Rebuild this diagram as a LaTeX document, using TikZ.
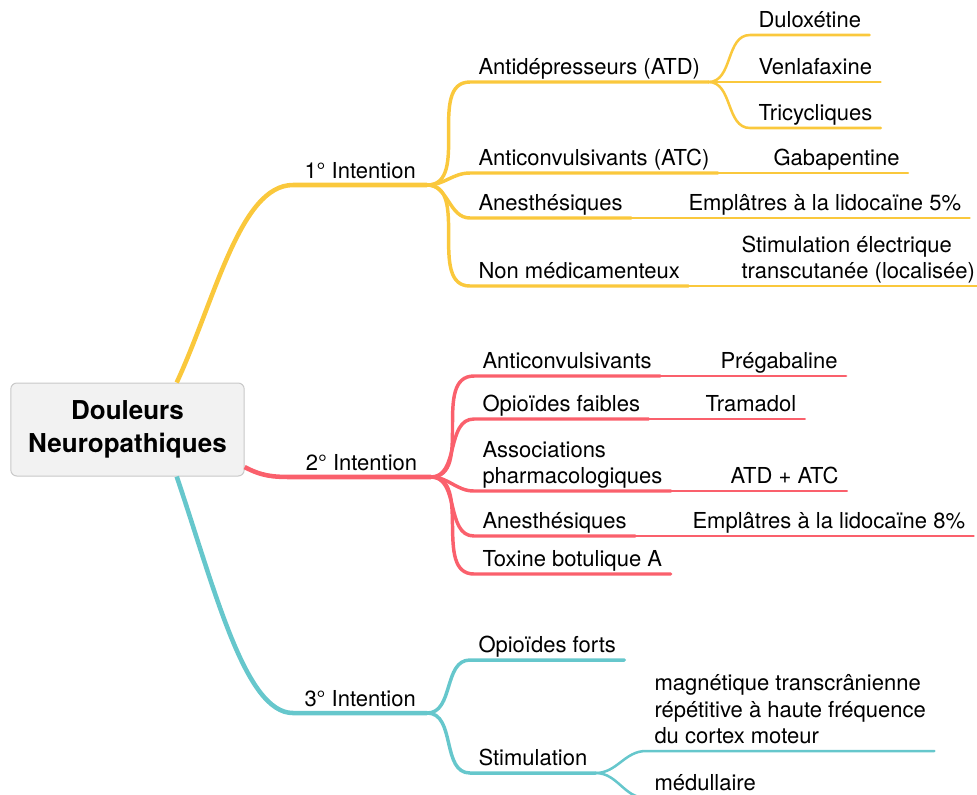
\documentclass[tikz,border=0pt]{standalone}
\usepackage{fontspec}
\setmainfont{TeX Gyre Heros}
\usetikzlibrary{calc}

\definecolor{ylwbranch}{RGB}{250,200,60}
\definecolor{redbranch}{RGB}{250,96,108}
\definecolor{tealbranch}{RGB}{102,199,204}
\definecolor{rootfill}{RGB}{242,242,242}
\definecolor{rootline}{RGB}{200,200,200}

\newcommand{\mmlines}[1]{\begin{tabular}[b]{@{}l@{}}#1\end{tabular}}

\tikzset{every picture/.style={line width=0.75pt}}
\tikzset{
  topic/.style={anchor=south west, inner xsep=6pt, inner ysep=5.25pt, text depth=0pt, font=\fontsize{16.5}{19.75}\selectfont},
  intention/.style={topic, inner xsep=8.25pt, inner ysep=4.5pt},
  lvlone/.style={line width=3.4pt},
  lvltwo/.style={line width=2.6pt, line cap=round},
  lvlthree/.style={line width=1.9pt, line cap=round},
  forkcurve/.style={out=0, in=180},
}

\begin{document}
\begin{tikzpicture}[x=0.75pt,y=0.75pt,yscale=-1,xscale=1]
\useasboundingbox (0,0) rectangle (977,794);
\clip (0,0) rectangle (977,794);

% Root
\node [draw=rootline, fill=rootfill, rounded corners=4.5pt, minimum width=175pt, minimum height=69.75pt, align=center, font=\bfseries\fontsize{19.5}{24.75}\selectfont] (root) at (127.5,429.5) {Douleurs\\Neuropathiques};

% Text Nodes: 1° Intention
\node [intention] (i1) at (293,185) {1° Intention};
\node [topic] (atd) at (470,82) {Antidépresseurs (ATD)};
\node [topic] (atc) at (470,173) {Anticonvulsivants (ATC)};
\node [topic] (anesA) at (470,218) {Anesthésiques};
\node [topic] (nonmed) at (470,286) {Non médicamenteux};
\node [topic] (dulox) at (750,35) {Duloxétine};
\node [topic] (venla) at (750,82) {Venlafaxine};
\node [topic] (tricy) at (750,128) {Tricycliques};
\node [topic] (gaba) at (765,173) {Gabapentine};
\node [topic] (emplA) at (680,218) {Emplâtres à la lidocaïne 5\%};
\node [topic] (tens) at (733,286) {\mmlines{Stimulation électrique\\transcutanée (localisée)}};

% Text Nodes: 2° Intention
\node [intention, minimum width=103.5pt] (i2) at (292,477) {2° Intention};
\node [topic] (anticonvB) at (474,376) {Anticonvulsivants};
\node [topic] (opfaib) at (474,419) {Opioïdes faibles};
\node [topic] (assoc) at (474,491) {\mmlines{Associations\\pharmacologiques}};
\node [topic] (anesB) at (474,536) {Anesthésiques};
\node [topic] (toxine) at (474,574) {Toxine botulique A};
\node [topic] (prega) at (712,376) {Prégabaline};
\node [topic] (trama) at (697,419) {Tramadol};
\node [topic] (atdatc) at (722,491) {ATD + ATC};
\node [topic] (emplB) at (684,536) {Emplâtres à la lidocaïne 8\%};

% Text Nodes: 3° Intention
\node [intention] (i3) at (293,713) {3° Intention};
\node [topic] (opfort) at (470,660) {Opioïdes forts};
\node [topic] (stim) at (470,773) {Stimulation};
\node [topic] (rtms) at (646,751) {\mmlines{magnétique transcrânienne\\répétitive à haute fréquence\\du cortex moteur}};
\node [topic] (medul) at (646,798) {médullaire};

% Branch: 1° Intention
\draw [lvlone, ylwbranch] ($(root.north west)!0.71!(root.north east)$) .. controls (215,300) and (240,185) .. (i1.south west) -- (i1.south east);
\draw [lvltwo, ylwbranch] (i1.south east) to[forkcurve] (atd.south west) -- (atd.south east);
\draw [lvltwo, ylwbranch] (i1.south east) to[forkcurve] (atc.south west) -- (atc.south east);
\draw [lvltwo, ylwbranch] (i1.south east) to[forkcurve] (anesA.south west) -- (anesA.south east);
\draw [lvltwo, ylwbranch] (i1.south east) to[forkcurve] (nonmed.south west) -- (nonmed.south east);
\draw [lvlthree, ylwbranch] (atd.south east) to[forkcurve] (dulox.south west) -- (dulox.south east);
\draw [lvlthree, ylwbranch] (atd.south east) to[forkcurve] (venla.south west) -- (venla.south east);
\draw [lvlthree, ylwbranch] (atd.south east) to[forkcurve] (tricy.south west) -- (tricy.south east);
\draw [lvlthree, ylwbranch] (atc.south east) -- (gaba.south east);
\draw [lvlthree, ylwbranch] (anesA.south east) -- (emplA.south east);
\draw [lvlthree, ylwbranch] (nonmed.south east) -- (tens.south east);

% Branch: 2° Intention
\draw [lvlone, redbranch] ($(root.north east)!0.9!(root.south east)$) .. controls (262,476) and (272,477) .. (i2.south west) -- (i2.south east);
\draw [lvltwo, redbranch] (i2.south east) to[forkcurve] (anticonvB.south west) -- (anticonvB.south east);
\draw [lvltwo, redbranch] (i2.south east) to[forkcurve] (opfaib.south west) -- (opfaib.south east);
\draw [lvltwo, redbranch] (i2.south east) to[forkcurve] (assoc.south west) -- (assoc.south east);
\draw [lvltwo, redbranch] (i2.south east) to[forkcurve] (anesB.south west) -- (anesB.south east);
\draw [lvltwo, redbranch] (i2.south east) to[forkcurve] (toxine.south west) -- (toxine.south east);
\draw [lvlthree, redbranch] (anticonvB.south east) -- (prega.south east);
\draw [lvlthree, redbranch] (opfaib.south east) -- (trama.south east);
\draw [lvlthree, redbranch] (assoc.south east) -- (atdatc.south east);
\draw [lvlthree, redbranch] (anesB.south east) -- (emplB.south east);

% Branch: 3° Intention
\draw [lvlone, tealbranch] ($(root.south west)!0.71!(root.south east)$) .. controls (215,590) and (245,713) .. (i3.south west) -- (i3.south east);
\draw [lvltwo, tealbranch] (i3.south east) to[forkcurve] (opfort.south west) -- (opfort.south east);
\draw [lvltwo, tealbranch] (i3.south east) to[forkcurve] (stim.south west) -- (stim.south east);
\draw [lvlthree, tealbranch] (stim.south east) to[forkcurve] (rtms.south west) -- (rtms.south east);
\draw [lvlthree, tealbranch] (stim.south east) to[forkcurve] (medul.south west) -- (medul.south east);

\end{tikzpicture}
\end{document}
